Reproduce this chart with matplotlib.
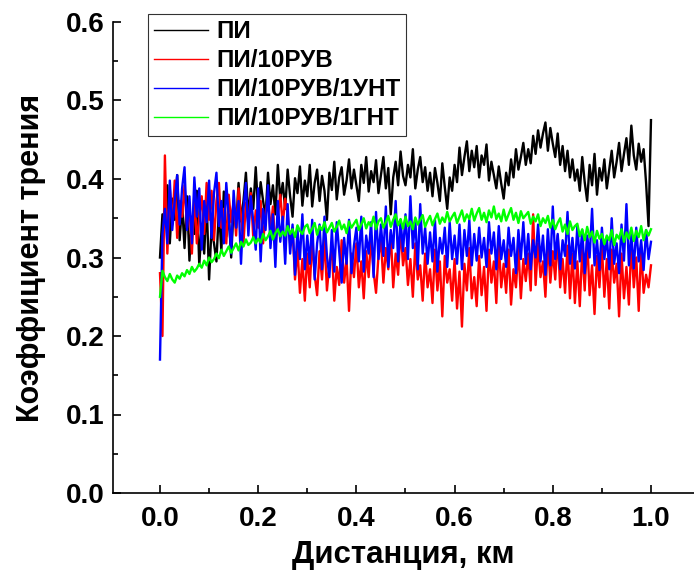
import numpy as np
import matplotlib
matplotlib.use("Agg")
import matplotlib.pyplot as plt
from matplotlib.ticker import MultipleLocator

plt.rcParams['font.family'] = ['Liberation Sans', 'DejaVu Sans']
plt.rcParams['font.weight'] = 'bold'

# --- data (friction coefficient vs distance, km) ---
labels = ["ПИ", "ПИ/10РУВ", "ПИ/10РУВ/1УНТ", "ПИ/10РУВ/1ГНТ"]
colors = ["black", "red", "blue", "#00ff00"]

distance = np.linspace(0.0, 1.0, 201)

pi_vals = [
    0.300, 0.355, 0.340, 0.392, 0.318, 0.375, 0.348, 0.405, 0.322, 0.368,
    0.312, 0.378, 0.296, 0.352, 0.330, 0.385, 0.290, 0.342, 0.305, 0.372,
    0.272, 0.338, 0.318, 0.295, 0.362, 0.308, 0.384, 0.327, 0.355, 0.300,
    0.365, 0.338, 0.395, 0.346, 0.372, 0.408, 0.351, 0.388, 0.362, 0.415,
    0.358, 0.396, 0.372, 0.352, 0.408, 0.368, 0.392, 0.355, 0.418, 0.374,
    0.395, 0.362, 0.412, 0.378, 0.352, 0.401, 0.382, 0.416, 0.366, 0.398,
    0.378, 0.418, 0.365, 0.395, 0.412, 0.372, 0.404, 0.385, 0.348, 0.408,
    0.386, 0.422, 0.374, 0.402, 0.415, 0.380, 0.398, 0.425, 0.388, 0.412,
    0.392, 0.372, 0.418, 0.395, 0.428, 0.384, 0.410, 0.396, 0.424, 0.382,
    0.405, 0.428, 0.388, 0.414, 0.355, 0.402, 0.422, 0.392, 0.435, 0.404,
    0.392, 0.418, 0.402, 0.438, 0.388, 0.412, 0.428, 0.396, 0.415, 0.385,
    0.408, 0.378, 0.414, 0.395, 0.372, 0.420, 0.390, 0.362, 0.402, 0.385,
    0.418, 0.396, 0.440, 0.405, 0.428, 0.448, 0.410, 0.436, 0.415, 0.442,
    0.402, 0.430, 0.418, 0.444, 0.398, 0.422, 0.405, 0.388, 0.416, 0.394,
    0.375, 0.408, 0.392, 0.425, 0.402, 0.438, 0.412, 0.428, 0.446, 0.418,
    0.438, 0.420, 0.455, 0.432, 0.462, 0.440, 0.458, 0.472, 0.436, 0.465,
    0.445, 0.428, 0.458, 0.418, 0.442, 0.410, 0.436, 0.402, 0.425, 0.398,
    0.412, 0.385, 0.428, 0.396, 0.372, 0.418, 0.392, 0.432, 0.380, 0.414,
    0.398, 0.425, 0.388, 0.412, 0.436, 0.402, 0.422, 0.446, 0.410, 0.432,
    0.452, 0.418, 0.468, 0.430, 0.412, 0.445, 0.422, 0.438, 0.395, 0.340,
    0.475,
]

ruv_vals = [
    0.280, 0.200, 0.430, 0.305, 0.388, 0.342, 0.398, 0.325, 0.372, 0.352,
    0.392, 0.338, 0.365, 0.305, 0.382, 0.318, 0.352, 0.378, 0.330, 0.395,
    0.348, 0.385, 0.322, 0.372, 0.395, 0.338, 0.362, 0.318, 0.380, 0.345,
    0.372, 0.328, 0.388, 0.352, 0.318, 0.370, 0.342, 0.382, 0.325, 0.360,
    0.338, 0.372, 0.318, 0.355, 0.378, 0.332, 0.365, 0.312, 0.352, 0.380,
    0.342, 0.375, 0.355, 0.318, 0.338, 0.272, 0.312, 0.255, 0.298, 0.245,
    0.305, 0.262, 0.322, 0.278, 0.252, 0.308, 0.272, 0.325, 0.258, 0.292,
    0.312, 0.245, 0.288, 0.265, 0.322, 0.268, 0.298, 0.232, 0.305, 0.275,
    0.318, 0.262, 0.295, 0.248, 0.308, 0.275, 0.328, 0.282, 0.255, 0.302,
    0.322, 0.268, 0.312, 0.285, 0.332, 0.262, 0.305, 0.278, 0.338, 0.290,
    0.312, 0.265, 0.298, 0.250, 0.318, 0.272, 0.290, 0.245, 0.305, 0.262,
    0.285, 0.242, 0.310, 0.258, 0.295, 0.225, 0.302, 0.268, 0.285, 0.245,
    0.298, 0.235, 0.282, 0.212, 0.292, 0.258, 0.312, 0.248, 0.275, 0.238,
    0.302, 0.252, 0.288, 0.232, 0.310, 0.268, 0.295, 0.242, 0.318, 0.262,
    0.292, 0.255, 0.310, 0.240, 0.285, 0.262, 0.312, 0.248, 0.298, 0.270,
    0.305, 0.258, 0.355, 0.265, 0.318, 0.275, 0.295, 0.250, 0.322, 0.268,
    0.308, 0.272, 0.328, 0.262, 0.298, 0.255, 0.315, 0.248, 0.305, 0.242,
    0.295, 0.238, 0.312, 0.258, 0.325, 0.252, 0.290, 0.228, 0.302, 0.262,
    0.315, 0.250, 0.298, 0.235, 0.310, 0.268, 0.292, 0.225, 0.305, 0.248,
    0.288, 0.240, 0.318, 0.262, 0.300, 0.232, 0.312, 0.255, 0.278, 0.262,
    0.290,
]

unt_vals = [
    0.170, 0.330, 0.362, 0.318, 0.398, 0.335, 0.372, 0.405, 0.342, 0.388,
    0.415, 0.335, 0.378, 0.318, 0.402, 0.352, 0.388, 0.310, 0.372, 0.345,
    0.398, 0.325, 0.382, 0.408, 0.340, 0.372, 0.318, 0.395, 0.352, 0.305,
    0.385, 0.338, 0.372, 0.292, 0.362, 0.395, 0.328, 0.378, 0.345, 0.310,
    0.388, 0.295, 0.362, 0.335, 0.392, 0.312, 0.355, 0.288, 0.372, 0.320,
    0.352, 0.292, 0.368, 0.305, 0.342, 0.278, 0.335, 0.298, 0.355, 0.285,
    0.328, 0.292, 0.348, 0.272, 0.318, 0.342, 0.285, 0.352, 0.302, 0.275,
    0.335, 0.282, 0.345, 0.308, 0.268, 0.325, 0.292, 0.348, 0.280, 0.315,
    0.338, 0.295, 0.352, 0.282, 0.328, 0.305, 0.345, 0.275, 0.358, 0.298,
    0.342, 0.302, 0.365, 0.288, 0.335, 0.312, 0.372, 0.295, 0.348, 0.308,
    0.355, 0.298, 0.378, 0.312, 0.348, 0.285, 0.368, 0.305, 0.338, 0.292,
    0.332, 0.295, 0.348, 0.282, 0.325, 0.305, 0.338, 0.288, 0.345, 0.298,
    0.328, 0.292, 0.342, 0.285, 0.335, 0.302, 0.348, 0.290, 0.330, 0.296,
    0.338, 0.300, 0.325, 0.288, 0.345, 0.305, 0.332, 0.285, 0.340, 0.298,
    0.322, 0.288, 0.338, 0.302, 0.325, 0.280, 0.335, 0.298, 0.345, 0.292,
    0.330, 0.285, 0.322, 0.300, 0.342, 0.295, 0.328, 0.278, 0.336, 0.290,
    0.365, 0.298, 0.330, 0.285, 0.322, 0.302, 0.358, 0.292, 0.325, 0.286,
    0.340, 0.295, 0.335, 0.280, 0.328, 0.300, 0.362, 0.290, 0.322, 0.284,
    0.338, 0.298, 0.326, 0.285, 0.350, 0.292, 0.318, 0.280, 0.342, 0.296,
    0.368, 0.290, 0.330, 0.286, 0.338, 0.295, 0.322, 0.284, 0.335, 0.298,
    0.320,
]

gnt_vals = [
    0.250, 0.283, 0.275, 0.270, 0.279, 0.272, 0.268, 0.277, 0.273, 0.280,
    0.276, 0.284, 0.279, 0.288, 0.282, 0.286, 0.292, 0.287, 0.296, 0.290,
    0.300, 0.294, 0.298, 0.305, 0.299, 0.310, 0.302, 0.308, 0.314, 0.306,
    0.312, 0.318, 0.309, 0.320, 0.314, 0.323, 0.316, 0.319, 0.326, 0.318,
    0.324, 0.319, 0.330, 0.322, 0.327, 0.334, 0.323, 0.331, 0.336, 0.327,
    0.333, 0.328, 0.340, 0.330, 0.336, 0.326, 0.341, 0.334, 0.330, 0.339,
    0.342, 0.331, 0.337, 0.344, 0.329, 0.340, 0.335, 0.345, 0.332, 0.338,
    0.344, 0.333, 0.339, 0.347, 0.336, 0.342, 0.331, 0.346, 0.338, 0.343,
    0.348, 0.335, 0.342, 0.350, 0.337, 0.345, 0.340, 0.352, 0.336, 0.346,
    0.350, 0.338, 0.345, 0.353, 0.339, 0.348, 0.355, 0.341, 0.349, 0.337,
    0.352, 0.340, 0.346, 0.336, 0.351, 0.342, 0.348, 0.354, 0.339, 0.347,
    0.353, 0.341, 0.349, 0.356, 0.343, 0.351, 0.345, 0.358, 0.346, 0.352,
    0.357, 0.344, 0.352, 0.360, 0.346, 0.355, 0.349, 0.362, 0.347, 0.356,
    0.363, 0.348, 0.357, 0.345, 0.360, 0.351, 0.365, 0.349, 0.356, 0.346,
    0.361, 0.347, 0.355, 0.363, 0.348, 0.357, 0.344, 0.359, 0.350, 0.354,
    0.358, 0.343, 0.352, 0.346, 0.355, 0.340, 0.350, 0.344, 0.353, 0.338,
    0.348, 0.336, 0.344, 0.350, 0.333, 0.342, 0.330, 0.346, 0.335, 0.340,
    0.343, 0.327, 0.336, 0.322, 0.339, 0.326, 0.333, 0.319, 0.334, 0.324,
    0.330, 0.317, 0.328, 0.322, 0.335, 0.316, 0.329, 0.324, 0.336, 0.320,
    0.332, 0.324, 0.338, 0.321, 0.334, 0.326, 0.340, 0.322, 0.335, 0.328,
    0.336,
]

series = [pi_vals, ruv_vals, unt_vals, gnt_vals]

# --- figure (694 x 577 px) ---
fig = plt.figure(figsize=(6.94, 5.77), dpi=100)
ax = fig.add_axes([113 / 694, 84 / 577, 1 - 113 / 694, 471 / 577])

# thick strokes so the dense noisy traces read as bands, like the original
for vals, col, lab in zip(series, colors, labels):
    ax.plot(distance, vals, color=col, linewidth=1.7, label=lab)

ax.set_xlim(-0.0957, 1.0876)
ax.set_ylim(0.0, 0.6)
ax.xaxis.set_major_locator(MultipleLocator(0.2))
ax.xaxis.set_minor_locator(MultipleLocator(0.1))
ax.yaxis.set_major_locator(MultipleLocator(0.1))
ax.yaxis.set_minor_locator(MultipleLocator(0.05))
ax.xaxis.set_major_formatter(plt.FormatStrFormatter('%.1f'))
ax.yaxis.set_major_formatter(plt.FormatStrFormatter('%.1f'))

ax.spines['top'].set_visible(False)
ax.spines['right'].set_visible(False)
for s in ['left', 'bottom']:
    ax.spines[s].set_linewidth(1.2)

ax.tick_params(which='major', direction='in', length=6, width=1.2, labelsize=20)
ax.tick_params(axis='x', which='major', pad=9)
ax.tick_params(axis='y', which='major', pad=6)
ax.tick_params(which='minor', direction='in', length=3.5, width=1.2)
for t in ax.get_xticklabels() + ax.get_yticklabels():
    t.set_fontweight('bold')

ax.set_xlabel("Дистанция, км", fontsize=22.5, fontweight='bold', labelpad=6)
ax.set_ylabel("Коэффициент трения", fontsize=22, fontweight='bold', labelpad=14)

leg = ax.legend(loc='upper left', bbox_to_anchor=(148 / 694, 1 - 14 / 577),
                bbox_transform=fig.transFigure, frameon=True, fancybox=False,
                edgecolor='black', prop={'size': 17.5, 'weight': 'bold'},
                handlelength=2.2, handletextpad=0.35, labelspacing=0.25,
                borderpad=0.25, borderaxespad=0.0)
leg.get_frame().set_linewidth(0.8)
for line in leg.get_lines():
    line.set_linewidth(1.0)

fig.savefig("out.png", dpi=100)
